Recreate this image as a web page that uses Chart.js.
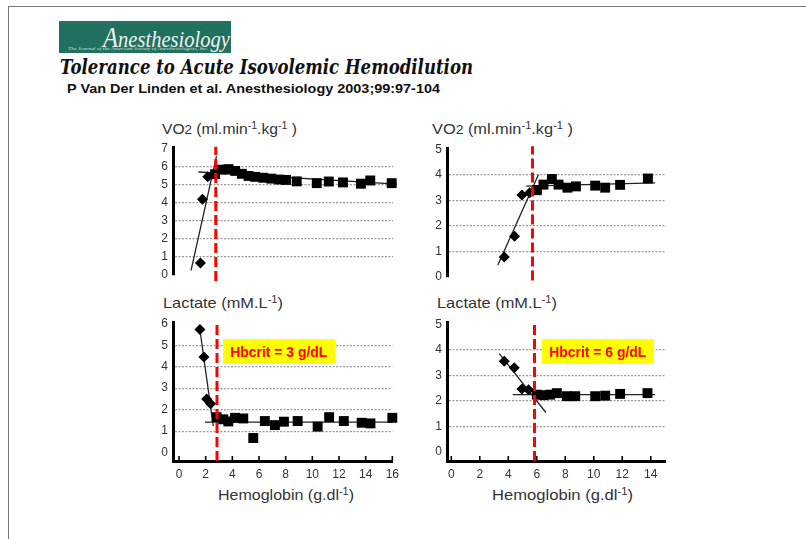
<!DOCTYPE html>
<html><head><meta charset="utf-8">
<script src="https://cdn.jsdelivr.net/npm/chart.js@4.4.1/dist/chart.umd.min.js"></script>
<style>
html,body{margin:0;padding:0;background:#fff;}
#page{position:relative;width:806px;height:539px;overflow:hidden;background:#fff;font-family:"Liberation Sans",Arial,sans-serif;}
.t{position:absolute;white-space:nowrap;line-height:1;transform-origin:0 0;}
.sup{font-size:0.68em;position:relative;top:-0.48em;}
.sub{font-size:0.85em;}
canvas{position:absolute;}
.box{position:absolute;background:#ffff00;display:flex;align-items:center;justify-content:center;}
.box span{color:#f00;font-weight:bold;font-size:14px;white-space:nowrap;line-height:1;display:inline-block;transform-origin:50% 50%;}
</style></head><body><div id="page">
<div style="position:absolute;left:8px;top:6px;width:798px;height:1px;background:#777"></div>
<div style="position:absolute;left:8px;top:6px;width:1px;height:533px;background:#777"></div>
<div style="position:absolute;left:59px;top:21px;width:172px;height:32px;background:#22705f"></div>
<div class="t" id="logo" data-w="127" data-b="43" data-f="24" style="font-family:'Liberation Serif',serif;font-style:italic;color:#eef2ee;font-size:24px;left:103px;"><span style="font-size:1.2em">A</span>nesthesiology</div>
<div class="t" data-w="140" data-b="50" data-f="5" style="font-family:'Liberation Serif',serif;font-style:italic;color:#cfe0da;font-size:5px;left:68px;">The Journal of the American Society of Anesthesiologists, Inc.</div>
<div class="t" data-w="413" data-b="74" data-f="20" style="font-family:'DejaVu Serif',serif;font-weight:bold;font-style:italic;color:#111;font-size:20px;left:60px;">Tolerance to Acute Isovolemic Hemodilution</div>
<div class="t" data-w="373" data-b="93" data-f="12" style="font-weight:bold;color:#111;font-size:12px;left:67px;">P Van Der Linden et al. Anesthesiology 2003;99:97-104</div>

<div class="t" data-w="135" data-b="134" data-f="15" style="color:#333;font-size:15px;left:162px;">VO<span class="sub">2</span> (ml.min<span class="sup">-1</span>.kg<span class="sup">-1</span> )</div>
<div class="t" data-w="141" data-b="134" data-f="15" style="color:#333;font-size:15px;left:432px;">VO<span class="sub">2</span> (ml.min<span class="sup">-1</span>.kg<span class="sup">-1</span> )</div>
<div class="t" data-w="120" data-b="308" data-f="15" style="color:#333;font-size:15px;left:163px;">Lactate (mM.L<span class="sup">-1</span>)</div>
<div class="t" data-w="120" data-b="308" data-f="15" style="color:#333;font-size:15px;left:437px;">Lactate (mM.L<span class="sup">-1</span>)</div>
<div class="t" data-w="136" data-b="500" data-f="15" style="color:#333;font-size:15px;left:218px;">Hemoglobin (g.dl<span class="sup">-1</span>)</div>
<div class="t" data-w="141" data-b="500" data-f="15" style="color:#333;font-size:15px;left:492px;">Hemoglobin (g.dl<span class="sup">-1</span>)</div>

<canvas id="c1"></canvas><canvas id="c2"></canvas><canvas id="c3"></canvas><canvas id="c4"></canvas>

<div class="box" style="left:223px;top:339px;width:112px;height:25px;"><span data-bw="97">Hbcrit = 3 g/dL</span></div>
<div class="box" style="left:542px;top:339px;width:112px;height:25px;"><span data-bw="97">Hbcrit = 6 g/dL</span></div>
</div>
<script>
// ---------- data ----------
// Top-left: VO2, Hbcrit 3 g/dL
const vo2LeftDiamondX = [1.6, 1.75, 2.15];
const vo2LeftDiamondY = [0.65, 4.2, 5.45];
const vo2LeftSquareX = [2.7, 3.2, 3.7, 4.2, 4.7, 5.2, 5.7, 6.3, 6.9, 7.5, 8.0, 8.8, 10.3, 11.2, 12.26, 13.6, 14.3, 15.9];
const vo2LeftSquareY = [5.6, 5.85, 5.88, 5.78, 5.62, 5.5, 5.45, 5.4, 5.35, 5.3, 5.28, 5.2, 5.1, 5.19, 5.14, 5.07, 5.25, 5.1];
const vo2LeftSteepX = [0.9, 2.8];
const vo2LeftSteepY = [0.25, 6.6];
const vo2LeftPlateauX = [1.45, 16.3];
const vo2LeftPlateauY = [5.72, 5.05];
const vo2LeftCritX = [2.75, 2.75];
const vo2LeftCritY = [-0.34, 7.13];

// Top-right: VO2, Hbcrit 6 g/dL
const vo2RightDiamondX = [3.72, 4.44, 4.96, 5.5];
const vo2RightDiamondY = [0.78, 1.59, 3.21, 3.3];
const vo2RightSquareX = [6.01, 6.47, 7.06, 7.53, 8.15, 8.75, 10.1, 10.8, 11.85, 13.8];
const vo2RightSquareY = [3.4, 3.62, 3.84, 3.62, 3.5, 3.55, 3.58, 3.5, 3.61, 3.86];
const vo2RightSteepX = [3.27, 6.12];
const vo2RightSteepY = [0.46, 4.02];
const vo2RightPlateauX = [5.26, 14.3];
const vo2RightPlateauY = [3.56, 3.69];
const vo2RightCritX = [5.7, 5.7];
const vo2RightCritY = [-0.15, 5.13];

// Bottom-left: Lactate, Hbcrit 3 g/dL
const lacLeftDiamondX = [1.57, 1.87, 2.07, 2.37];
const lacLeftDiamondY = [5.73, 4.45, 2.49, 2.27];
const lacLeftSquareX = [2.82, 3.32, 3.7, 4.2, 4.82, 5.57, 6.44, 7.19, 7.87, 8.9, 10.4, 11.26, 12.36, 13.7, 14.36, 16.0];
const lacLeftSquareY = [1.65, 1.55, 1.45, 1.62, 1.59, 0.68, 1.47, 1.28, 1.44, 1.47, 1.21, 1.65, 1.47, 1.39, 1.36, 1.62];
const lacLeftSteepX = [1.52, 2.57];
const lacLeftSteepY = [5.94, 1.24];
const lacLeftPlateauX = [1.95, 16.0];
const lacLeftPlateauY = [1.42, 1.42];
const lacLeftCritX = [2.85, 2.85];
const lacLeftCritY = [-0.39, 6.07];

// Bottom-right: Lactate, Hbcrit 6 g/dL
const lacRightDiamondX = [3.72, 4.42, 4.96, 5.42];
const lacRightDiamondY = [3.55, 3.29, 2.46, 2.43];
const lacRightSquareX = [6.01, 6.47, 6.94, 7.41, 8.11, 8.7, 10.1, 10.8, 11.85, 13.77];
const lacRightSquareY = [2.24, 2.22, 2.24, 2.3, 2.18, 2.18, 2.18, 2.2, 2.27, 2.3];
const lacRightSteepX = [3.37, 6.64];
const lacRightSteepY = [3.85, 1.54];
const lacRightPlateauX = [4.32, 14.3];
const lacRightPlateauY = [2.24, 2.24];
const lacRightCritX = [5.84, 5.84];
const lacRightCritY = [-0.36, 5.08];

// tick labels
const vo2LeftYTicks = [0, 1, 2, 3, 4, 5, 6, 7];
const vo2RightYTicks = [0, 1, 2, 3, 4, 5];
const lacLeftYTicks = [0, 1, 2, 3, 4, 5, 6];
const lacRightYTicks = [0, 1, 2, 3, 4, 5];
const hbLeftXTicks = [0, 2, 4, 6, 8, 10, 12, 14, 16];
const hbRightXTicks = [0, 2, 4, 6, 8, 10, 12, 14];

// ---------- text fitting ----------
document.querySelectorAll('[data-w]').forEach(el => {
  const f = +el.dataset.f, b = +el.dataset.b;
  el.style.top = (b - 0.85 * f) + 'px';
  const w = el.getBoundingClientRect().width;
  el.style.transform = 'scaleX(' + (+el.dataset.w / w) + ')';
});
document.querySelectorAll('[data-bw]').forEach(el => {
  const w = el.getBoundingClientRect().width;
  el.style.transform = 'scaleX(' + (+el.dataset.bw / w) + ')';
});

// ---------- charts ----------
const zip = (xs, ys) => xs.map((x, i) => ({x: x, y: ys[i]}));
const TICKFONT = {family: "'Liberation Sans', Arial, sans-serif", size: 12};

const upTicks = {
  id: 'upTicks',
  afterDraw(chart, args, opts) {
    if (!opts.values) return;
    const ctx = chart.ctx, xs = chart.scales.x, b = chart.chartArea.bottom;
    ctx.save(); ctx.strokeStyle = '#000'; ctx.lineWidth = 1.6;
    opts.values.forEach(v => {
      const px = xs.getPixelForValue(v);
      ctx.beginPath(); ctx.moveTo(px, b); ctx.lineTo(px, b - 5); ctx.stroke();
    });
    ctx.restore();
  }
};

function makeChart(id, g, series) {
  const YW = 30, XH = g.xTicks ? 30 : 0, PT = 8, PR = 12, PB = 10;
  const cv = document.getElementById(id);
  const W = Math.round(YW + (g.R - g.L) + PR), H = Math.round(PT + (g.B - g.T) + XH + PB);
  cv.width = W; cv.height = H;
  cv.style.width = W + 'px'; cv.style.height = H + 'px';
  cv.style.left = (g.L - YW) + 'px'; cv.style.top = (g.T - PT) + 'px';
  const gridTop = g.yTicks[g.yTicks.length - 1];
  const datasets = [
    {data: zip(series.critX, series.critY), showLine: true, pointRadius: 0, borderColor: '#ff0000', borderWidth: 3, borderDash: [10, 4], clip: false},
    {data: zip(series.diaX, series.diaY), pointStyle: 'rectRot', pointRadius: 5.5, backgroundColor: '#000', borderWidth: 0},
    {data: zip(series.sqX, series.sqY), pointStyle: 'rect', pointRadius: 7, backgroundColor: '#000', borderWidth: 0, clip: false},
    {data: zip(series.steepX, series.steepY), showLine: true, pointRadius: 0, borderColor: '#222', borderWidth: 1.3, clip: false},
    {data: zip(series.platX, series.platY), showLine: true, pointRadius: 0, borderColor: '#222', borderWidth: 1.3, clip: false}
  ];
  return new Chart(cv, {
    type: 'scatter',
    data: {datasets: datasets},
    plugins: [upTicks],
    options: {
      responsive: false, animation: false, devicePixelRatio: 1,
      layout: {padding: {left: 0, right: PR, top: PT, bottom: PB}},
      plugins: {legend: {display: false}, tooltip: {enabled: false}, upTicks: {values: g.xTicks}},
      scales: {
        x: {
          type: 'linear', min: g.xMin, max: g.xMax, display: !!g.xTicks,
          afterBuildTicks: s => { s.ticks = (g.xTicks || []).map(v => ({value: v})); },
          afterFit: s => { s.height = XH; },
          grid: {display: false, drawTicks: false},
          border: {display: true, color: '#000', width: 3},
          ticks: {font: TICKFONT, color: '#333', padding: 6, maxRotation: 0, autoSkip: false}
        },
        y: {
          type: 'linear', min: g.yMin, max: g.yMax,
          afterBuildTicks: s => { s.ticks = g.yTicks.map(v => ({value: v})); },
          afterFit: s => { s.width = YW; },
          grid: {drawTicks: false, lineWidth: 1.2,
            color: c => (c.tick && c.tick.value >= 1 && c.tick.value < gridTop) ? '#999' : 'rgba(0,0,0,0)'},
          border: {display: true, color: '#000', width: 3, dash: [2, 1.5]},
          ticks: {font: TICKFONT, color: '#333', padding: 5, autoSkip: false}
        }
      }
    }
  });
}

makeChart('c1', {L: 173, R: 392.6, T: 142.5, B: 276.5, xMin: -0.45, xMax: 16, yMin: 0, yMax: 7.1, yTicks: vo2LeftYTicks, xTicks: null},
  {critX: vo2LeftCritX, critY: vo2LeftCritY, diaX: vo2LeftDiamondX, diaY: vo2LeftDiamondY, sqX: vo2LeftSquareX, sqY: vo2LeftSquareY,
   steepX: vo2LeftSteepX, steepY: vo2LeftSteepY, platX: vo2LeftPlateauX, platY: vo2LeftPlateauY});
makeChart('c2', {L: 446.7, R: 665, T: 144.3, B: 279, xMin: -0.3, xMax: 15, yMin: 0, yMax: 5.05, yTicks: vo2RightYTicks, xTicks: null},
  {critX: vo2RightCritX, critY: vo2RightCritY, diaX: vo2RightDiamondX, diaY: vo2RightDiamondY, sqX: vo2RightSquareX, sqY: vo2RightSquareY,
   steepX: vo2RightSteepX, steepY: vo2RightSteepY, platX: vo2RightPlateauX, platY: vo2RightPlateauY});
makeChart('c3', {L: 173, R: 392.6, T: 318.3, B: 461, xMin: -0.45, xMax: 16, yMin: -0.39, yMax: 6.07, yTicks: lacLeftYTicks, xTicks: hbLeftXTicks},
  {critX: lacLeftCritX, critY: lacLeftCritY, diaX: lacLeftDiamondX, diaY: lacLeftDiamondY, sqX: lacLeftSquareX, sqY: lacLeftSquareY,
   steepX: lacLeftSteepX, steepY: lacLeftSteepY, platX: lacLeftPlateauX, platY: lacLeftPlateauY});
makeChart('c4', {L: 446.7, R: 665, T: 318.3, B: 461.7, xMin: -0.3, xMax: 15, yMin: -0.36, yMax: 5.08, yTicks: lacRightYTicks, xTicks: hbRightXTicks},
  {critX: lacRightCritX, critY: lacRightCritY, diaX: lacRightDiamondX, diaY: lacRightDiamondY, sqX: lacRightSquareX, sqY: lacRightSquareY,
   steepX: lacRightSteepX, steepY: lacRightSteepY, platX: lacRightPlateauX, platY: lacRightPlateauY});
</script>
</body></html>
